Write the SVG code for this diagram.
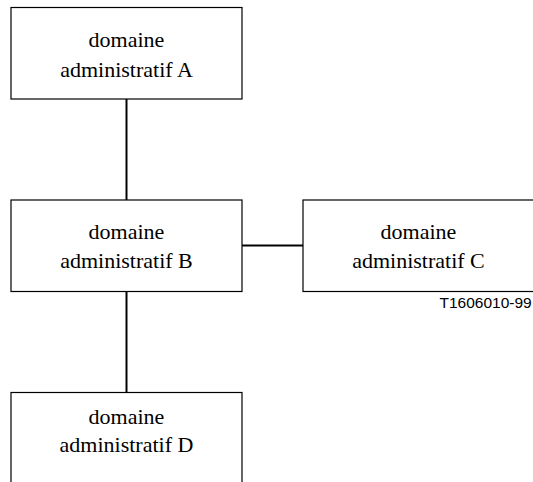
<svg xmlns="http://www.w3.org/2000/svg" width="533" height="482" viewBox="0 0 533 482">
<style>
.box{fill:#fff;stroke:#000;stroke-width:1.2}
.lbl{font-family:"Liberation Serif","Times New Roman",serif;font-size:22px;fill:#000;text-anchor:middle}
.conn{stroke:#000;stroke-width:2;fill:none}
.ref{font-family:"Liberation Sans",Arial,sans-serif;font-size:15.5px;fill:#000}
</style>
<rect width="533" height="482" fill="#fff"/>
<g id="connectors">
<line class="conn" x1="126.5" y1="99" x2="126.5" y2="200"/>
<line class="conn" x1="126.5" y1="292" x2="126.5" y2="392"/>
<line class="conn" x1="242" y1="245.5" x2="303" y2="245.5"/>
</g>
<g id="nodeA">
<rect class="box" x="11" y="7.5" width="231" height="91.5"/>
<text class="lbl" x="126.5" y="47">domaine</text>
<text class="lbl" x="126.5" y="77">administratif A</text>
</g>
<g id="nodeB">
<rect class="box" x="11" y="200" width="231" height="91.5"/>
<text class="lbl" x="126.5" y="239">domaine</text>
<text class="lbl" x="126.5" y="268">administratif B</text>
</g>
<g id="nodeC">
<rect class="box" x="303" y="200" width="231" height="91.5"/>
<text class="lbl" x="418.5" y="239">domaine</text>
<text class="lbl" x="418.5" y="268">administratif C</text>
</g>
<g id="nodeD">
<rect class="box" x="11" y="392.5" width="231" height="100"/>
<text class="lbl" x="126.5" y="424">domaine</text>
<text class="lbl" x="126.5" y="452">administratif D</text>
</g>
<text class="ref" x="439.5" y="308">T1606010-99</text>
</svg>
